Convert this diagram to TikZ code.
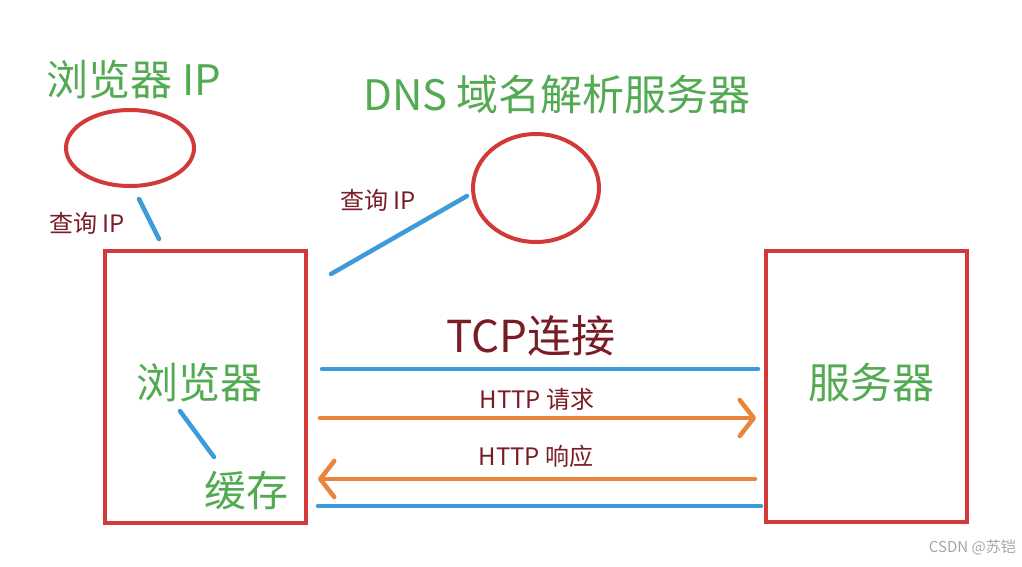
\documentclass[tikz,border=0pt]{standalone}
\usepackage{fontspec}
\setmainfont{Noto Sans CJK SC}
\usetikzlibrary{arrows.meta,shapes.geometric}
\definecolor{boxred}{HTML}{D23A3A}
\definecolor{txtgreen}{HTML}{52AA52}
\definecolor{txtred}{HTML}{7A1C26}
\definecolor{lineblue}{HTML}{3D9BDB}
\definecolor{lineorange}{HTML}{E8843C}
\tikzset{
  redbox/.style={draw=boxred,line width=4pt,inner sep=0pt},
  greentext/.style={text=txtgreen,font=\fontsize{42}{48}\selectfont,inner sep=0pt},
  redtext/.style={text=txtred,font=\fontsize{24}{28}\selectfont,inner sep=0pt},
  bigred/.style={text=txtred,font=\fontsize{44}{50}\selectfont,inner sep=0pt},
  blueline/.style={draw=lineblue,line width=4.5pt,line cap=round},
  orangearrow/.style={draw=lineorange,line width=4.5pt,line cap=round,
    -{Straight Barb[length=14pt,width=36pt,round]}},
}
\begin{document}
\begin{tikzpicture}[x=1pt,y=-1pt]
\useasboundingbox[fill=white] (0,0) rectangle (1022,566);
% boxes
\node[redbox,minimum width=201pt,minimum height=272pt] (browser) at (205.5,387) {};
\node[redbox,minimum width=201pt,minimum height=271pt] (server) at (866.5,386.5) {};
% ellipses
\node[redbox,ellipse,minimum width=128pt,minimum height=76pt] (ipcache) at (130,148) {};
\node[redbox,ellipse,minimum width=126pt,minimum height=108pt] (dns) at (536,188) {};
% texts
\node[greentext] (ipcachelabel) at (134,80) {浏览器 IP};
\node[greentext] (dnslabel) at (557,95) {DNS 域名解析服务器};
\node[redtext] (q1) at (87,223) {查询 IP};
\node[redtext] (q2) at (378,200) {查询 IP};
\node[bigred] (tcp) at (531,336) {TCP连接};
\node[redtext] (req) at (537,399) {HTTP 请求};
\node[redtext] (resp) at (536,456) {HTTP 响应};
\node[greentext] (blabel) at (199,383) {浏览器};
\node[greentext] (cache) at (246,491) {缓存};
\node[greentext] (slabel) at (871,383) {服务器};
\node[text=gray!70,font=\fontsize{15}{18}\selectfont,inner sep=0pt,anchor=east] (wm) at (1016,547) {CSDN @苏铠};
% coordinates for free connectors
\coordinate (a1) at (139,199);
\coordinate (a2) at (159,239);
\coordinate (b1) at (331,274);
\coordinate (b2) at (467,196);
\coordinate (c1) at (180,411);
\coordinate (c2) at (214,457);
\coordinate (t1) at (322,369);
\coordinate (t2) at (758,369);
\coordinate (r1) at (320,418);
\coordinate (r2) at (756,418);
\coordinate (s1) at (755,479);
\coordinate (s2) at (318,479);
\coordinate (u1) at (318,506);
\coordinate (u2) at (761,506);
% connectors
\draw[blueline] (a1) -- (a2);
\draw[blueline] (b1) -- (b2);
\draw[blueline] (c1) -- (c2);
\draw[blueline] (t1) -- (t2);
\draw[orangearrow] (r1) -- (r2);
\draw[orangearrow] (s1) -- (s2);
\draw[blueline] (u1) -- (u2);
\end{tikzpicture}
\end{document}
